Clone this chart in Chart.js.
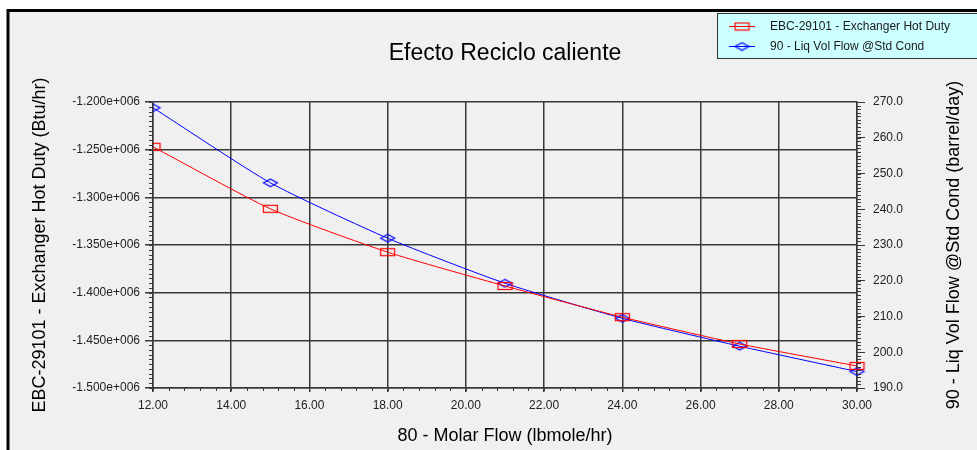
<!DOCTYPE html>
<html lang="es">
<head>
<meta charset="utf-8">
<title>Efecto Reciclo caliente</title>
<script src="https://cdn.jsdelivr.net/npm/chart.js@4.4.1/dist/chart.umd.min.js"></script>
<style>
  html, body { margin: 0; padding: 0; background: #ffffff; }
  canvas { display: block; }
</style>
</head>
<body>
<canvas id="grafico-reciclo" width="977" height="450"></canvas>
<script>
// =============================
// DATOS
// =============================
const flujoMolar = [12, 15, 18, 21, 24, 27, 30];            // lbmole/hr
const calorIntercambiador = [-1247000, -1312000, -1357500, -1393000, -1425700, -1453800, -1476900]; // Btu/hr
const flujoLiquido = [268.4, 247.4, 231.9, 219.3, 209.5, 201.7, 194.6];   // barrel/day

const titulo = "Efecto Reciclo caliente";
const nombreSerieCalor = "EBC-29101 - Exchanger Hot Duty";
const nombreSerieLiquido = "90 - Liq Vol Flow @Std Cond";
const tituloEjeX = "80 - Molar Flow (lbmole/hr)";
const tituloEjeIzq = "EBC-29101 - Exchanger Hot Duty (Btu/hr)";
const tituloEjeDer = "90 - Liq Vol Flow @Std Cond (barrel/day)";

const FUENTE = "'Liberation Sans', Arial, sans-serif";
const ROJO = "#ff0000";
const AZUL = "#0000ff";
const GRILLA = "#383838";

// =============================
// UTILIDADES
// =============================
function formatearExponencial(valor) {
  const signo = valor < 0 ? "-" : "";
  return signo + (Math.abs(valor) / 1e6).toFixed(3) + "e+006";
}

// marcadores huecos (rectangulo y rombo achatado)
function crearMarcador(tipo, color) {
  const c = document.createElement("canvas");
  c.width = 17;
  c.height = 10;
  const ctx = c.getContext("2d");
  ctx.strokeStyle = color;
  ctx.lineWidth = 1.2;
  if (tipo === "rect") {
    ctx.strokeRect(1.5, 1.5, 14, 7);
  } else {
    ctx.beginPath();
    ctx.moveTo(1.5, 5);
    ctx.lineTo(8.5, 1.2);
    ctx.lineTo(15.5, 5);
    ctx.lineTo(8.5, 8.8);
    ctx.closePath();
    ctx.stroke();
  }
  return c;
}

const marcadorRojo = crearMarcador("rect", ROJO);
const marcadorAzul = crearMarcador("rombo", AZUL);

// =============================
// PLUGIN: marco, titulos, leyenda y ticks menores
// =============================
const decoracion = {
  id: "decoracion",
  beforeDraw(chart) {
    const ctx = chart.ctx;
    const { width, height } = chart;
    ctx.save();
    ctx.fillStyle = "#ffffff";
    ctx.fillRect(0, 0, width, height);
    ctx.fillStyle = "#f0f0f0";
    ctx.fillRect(8, 11, width, height);
    ctx.strokeStyle = "#000000";
    ctx.lineWidth = 3;
    ctx.beginPath();
    ctx.moveTo(8, height + 5);
    ctx.lineTo(8, 10.5);
    ctx.lineTo(width + 5, 10.5);
    ctx.stroke();
    ctx.restore();
  },
  afterDraw(chart) {
    const ctx = chart.ctx;
    const area = chart.chartArea;
    const { x, y, y1 } = chart.scales;
    ctx.save();

    // ticks menores
    ctx.strokeStyle = GRILLA;
    ctx.lineWidth = 1;
    ctx.beginPath();
    for (let v = 12; v <= 30.001; v += 0.4) {
      const px = Math.round(x.getPixelForValue(v)) + 0.5;
      ctx.moveTo(px, area.bottom);
      ctx.lineTo(px, area.bottom + 3);
    }
    for (let v = -1500000; v <= -1200000; v += 5000) {
      const py = Math.round(y.getPixelForValue(v)) + 0.5;
      ctx.moveTo(area.left - 4, py);
      ctx.lineTo(area.left, py);
    }
    for (let v = 190; v <= 270; v += 1) {
      const py = Math.round(y1.getPixelForValue(v)) + 0.5;
      ctx.moveTo(area.right, py);
      ctx.lineTo(area.right + 4, py);
    }
    ctx.stroke();

    // titulo centrado sobre el area de trazado
    ctx.fillStyle = "#000000";
    ctx.font = "23px " + FUENTE;
    ctx.textAlign = "center";
    ctx.textBaseline = "middle";
    ctx.fillText(titulo, (area.left + area.right) / 2, 54);

    // titulo del eje derecho, leido de abajo hacia arriba
    ctx.save();
    ctx.font = "18px " + FUENTE;
    ctx.translate(954, (area.top + area.bottom) / 2);
    ctx.rotate(-Math.PI / 2);
    ctx.fillText(tituloEjeDer, 0, 0);
    ctx.restore();

    // leyenda
    ctx.fillStyle = "#ccffff";
    ctx.fillRect(717.5, 13.5, 280, 45);
    ctx.strokeStyle = "#333333";
    ctx.lineWidth = 1;
    ctx.strokeRect(717.5, 13.5, 280, 45);

    const entradas = [
      { texto: nombreSerieCalor, color: ROJO, marcador: marcadorRojo, yy: 26 },
      { texto: nombreSerieLiquido, color: AZUL, marcador: marcadorAzul, yy: 46 }
    ];
    ctx.font = "12px " + FUENTE;
    ctx.textAlign = "left";
    entradas.forEach(e => {
      ctx.strokeStyle = e.color;
      ctx.beginPath();
      ctx.moveTo(729, e.yy + 0.5);
      ctx.lineTo(755, e.yy + 0.5);
      ctx.stroke();
      ctx.drawImage(e.marcador, 742 - e.marcador.width / 2, e.yy + 0.5 - e.marcador.height / 2);
      ctx.fillStyle = "#1a1a1a";
      ctx.fillText(e.texto, 770, e.yy + 1);
    });

    ctx.restore();
  }
};

// =============================
// GRAFICO
// =============================
new Chart(document.getElementById("grafico-reciclo"), {
  type: "line",
  data: {
    datasets: [
      {
        label: nombreSerieCalor,
        data: flujoMolar.map((f, i) => ({ x: f, y: calorIntercambiador[i] })),
        yAxisID: "y",
        borderColor: ROJO,
        borderWidth: 1,
        tension: 0.2,
        pointStyle: marcadorRojo,
        pointRadius: 4,
        clip: { left: 0, top: 8, right: 9, bottom: 8 }
      },
      {
        label: nombreSerieLiquido,
        data: flujoMolar.map((f, i) => ({ x: f, y: flujoLiquido[i] })),
        yAxisID: "y1",
        borderColor: AZUL,
        borderWidth: 1,
        tension: 0.2,
        pointStyle: marcadorAzul,
        pointRadius: 4,
        clip: { left: 0, top: 8, right: 9, bottom: 8 }
      }
    ]
  },
  options: {
    responsive: false,
    animation: false,
    devicePixelRatio: 1,
    layout: {
      padding: { top: 102, left: 0, right: 0, bottom: 0 }
    },
    plugins: {
      legend: { display: false },
      title: { display: false },
      tooltip: { enabled: false }
    },
    scales: {
      x: {
        type: "linear",
        position: "bottom",
        min: 12,
        max: 30,
        afterFit: s => { s.height = 62; },
        afterBuildTicks: s => {
          s.ticks = [];
          for (let v = 12; v <= 30; v += 2) s.ticks.push({ value: v });
        },
        grid: { color: GRILLA, lineWidth: 1.5, tickLength: 4, tickColor: GRILLA },
        border: { color: GRILLA, width: 1.5 },
        ticks: {
          color: "#222222",
          font: { family: FUENTE, size: 12 },
          padding: 6,
          maxRotation: 0,
          callback: v => Number(v).toFixed(2)
        },
        title: {
          display: true,
          text: tituloEjeX,
          color: "#000000",
          font: { family: FUENTE, size: 18 },
          padding: { top: 0, bottom: 3 }
        }
      },
      y: {
        type: "linear",
        position: "left",
        min: -1500000,
        max: -1200000,
        afterFit: s => { s.width = 153; },
        afterBuildTicks: s => {
          s.ticks = [];
          for (let v = -1500000; v <= -1200000; v += 50000) s.ticks.push({ value: v });
        },
        grid: { color: GRILLA, lineWidth: 1.5, tickLength: 8, tickColor: GRILLA },
        border: { color: GRILLA, width: 1.5 },
        ticks: {
          color: "#222222",
          font: { family: FUENTE, size: 12 },
          padding: 5,
          callback: v => formatearExponencial(v)
        },
        title: {
          display: true,
          text: tituloEjeIzq,
          color: "#000000",
          font: { family: FUENTE, size: 18 },
          padding: { top: 29, bottom: 0 }
        }
      },
      y1: {
        type: "linear",
        position: "right",
        min: 190,
        max: 270,
        afterFit: s => { s.width = 120; },
        afterBuildTicks: s => {
          s.ticks = [];
          for (let v = 190; v <= 270; v += 10) s.ticks.push({ value: v });
        },
        grid: { drawOnChartArea: false, tickLength: 8, tickColor: GRILLA, lineWidth: 1 },
        border: { color: GRILLA, width: 1.5 },
        ticks: {
          color: "#222222",
          font: { family: FUENTE, size: 12 },
          padding: 8,
          callback: v => Number(v).toFixed(1)
        },
        title: { display: false }
      }
    }
  },
  plugins: [decoracion]
});
</script>
</body>
</html>
